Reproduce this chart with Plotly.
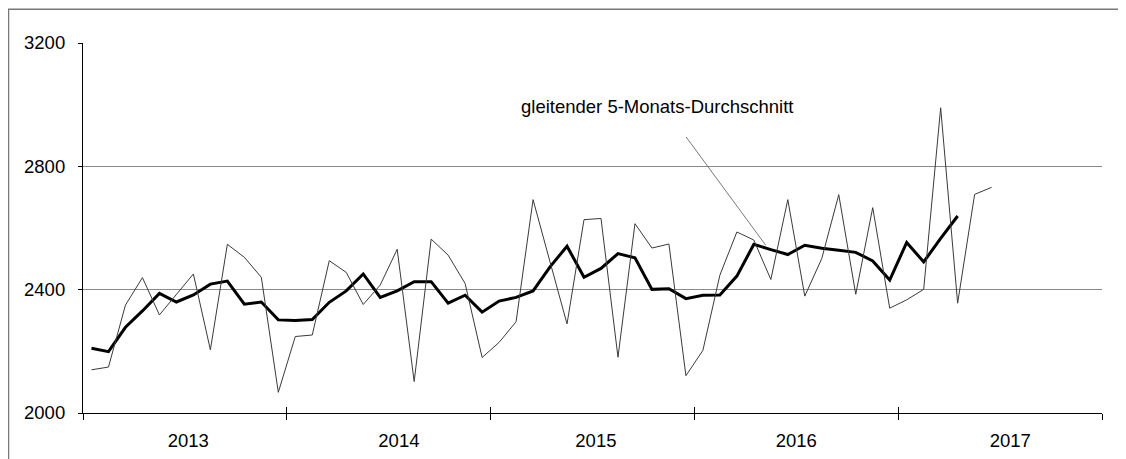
import plotly.graph_objects as go

# month index 0 = Jan 2013
years = ["2013", "2014", "2015", "2016", "2017"]
monthly_values = [2140, 2149, 2350, 2439, 2318, 2385, 2451, 2205, 2547, 2505, 2440, 2067,
                  2248, 2253, 2494, 2456, 2352, 2415, 2531, 2102, 2564, 2512, 2420, 2180,
                  2229, 2296, 2692, 2490, 2289, 2627, 2631, 2181, 2614, 2535, 2548, 2121,
                  2203, 2447, 2587, 2561, 2433, 2692, 2379, 2501, 2708, 2385, 2666, 2340,
                  2367, 2401, 2990, 2356, 2709, 2732]
moving_avg = [2210, 2199, 2278, 2331, 2388, 2360, 2383, 2418, 2428, 2353, 2360, 2302,
              2300, 2303, 2359, 2396, 2451, 2375, 2396, 2426, 2426, 2356, 2382, 2327,
              2363, 2375, 2396, 2474, 2541, 2440, 2469, 2517, 2503, 2401, 2403, 2371,
              2382, 2383, 2444, 2547, 2530, 2514, 2544, 2534, 2528, 2521, 2493, 2431,
              2553, 2490, 2566, 2639]
y_ticks = [2000, 2400, 2800, 3200]
annotation_text = "gleitender 5-Monats-Durchschnitt"

months_raw = list(range(len(monthly_values)))
months_ma = list(range(len(moving_avg)))
# layout: label placement (in months) as drawn in the original
year_label_pos = [5.7, 18.1, 29.7, 41.5, 54.1]
year_bounds = [12 * i - 0.5 for i in range(len(years) + 1)]
xr = [-0.5, 12 * len(years) - 0.5]

FONT = "Liberation Sans, Arial, sans-serif"
FS = 18.5

# page body has an 8px margin, so the figure is sized to fit the window
W, H = 1118, 451
L, R, T, B = 75.3, 23.7, 34.5, 45.7
PW, PH = W - L - R, H - T - B

fig = go.Figure()
fig.add_trace(go.Scatter(x=months_raw, y=monthly_values, mode="lines",
                         line=dict(color="#3a3a3a", width=1), xaxis="x2", yaxis="y",
                         hoverinfo="skip"))
fig.add_trace(go.Scatter(x=months_ma, y=moving_avg, mode="lines",
                         line=dict(color="black", width=3), hoverinfo="skip"))

fig.update_layout(
    width=W, height=H,
    margin=dict(l=L, r=R, t=T, b=B, pad=0, autoexpand=False),
    paper_bgcolor="white", plot_bgcolor="white",
    showlegend=False,
    font=dict(family=FONT, size=FS, color="black"),
    xaxis=dict(range=xr, tickmode="array", tickvals=year_label_pos, ticktext=years,
               ticks="", showgrid=False, zeroline=False, automargin=False,
               showline=True, linecolor="black", linewidth=1.2,
               ticklabelstandoff=11,
               minor=dict(tickmode="array", tickvals=year_bounds, ticks="outside",
                          ticklen=6, tickcolor="black", tickwidth=1, showgrid=False)),
    xaxis2=dict(range=xr, overlaying="x", side="bottom", tickmode="array",
                tickvals=year_bounds, ticks="inside", ticklen=6, tickcolor="black",
                showticklabels=False, showgrid=False, zeroline=False, showline=False,
                automargin=False),
    yaxis=dict(range=[2000, 3200], tickmode="array", tickvals=y_ticks,
               ticks="outside", ticklen=4, tickcolor="black", automargin=False,
               showgrid=True, gridcolor="#8a8a8a", gridwidth=1,
               zeroline=False, showline=True, linecolor="black", linewidth=1.2,
               ticklabelstandoff=9),
)

fig.add_annotation(x=25.15, y=2994, xref="x", yref="y", text=annotation_text,
                   showarrow=False, xanchor="left", yanchor="middle",
                   font=dict(family=FONT, size=FS, color="black"))
fig.add_annotation(x=39.7, y=2544, ax=34.95, ay=2900, xref="x", yref="y",
                   axref="x", ayref="y", text="", showarrow=True, arrowhead=0,
                   arrowwidth=0.8, arrowcolor="#555555")

# outer chart frame (left and top edges visible)
fig.add_shape(type="rect", xref="paper", yref="paper",
              x0=(0.8 - L) / PW, x1=1.3, y0=-0.3, y1=(PH + T - 0.8) / PH,
              line=dict(color="#777777", width=1.5), layer="below")

fig.write_html("out.html")
